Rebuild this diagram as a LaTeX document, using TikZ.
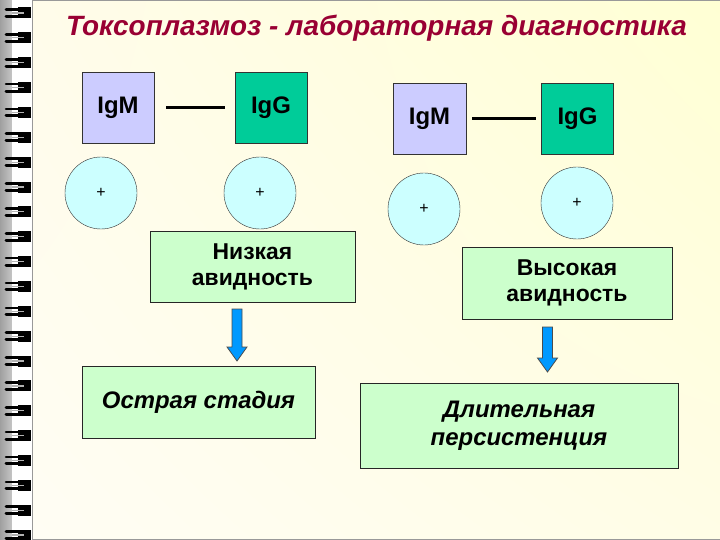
\documentclass[tikz,border=0pt]{standalone}
\usepackage{fontspec}
\setmainfont{Liberation Sans}
\usetikzlibrary{calc,shadings}
\definecolor{titlered}{RGB}{153,0,51}
\definecolor{igmblue}{RGB}{204,204,255}
\definecolor{igggreen}{RGB}{0,204,153}
\definecolor{pluscyan}{RGB}{204,255,255}
\definecolor{boxgreen}{RGB}{204,255,204}
\definecolor{arrowblue}{RGB}{0,153,255}
\definecolor{bgtr}{RGB}{255,255,212}
\definecolor{bgtl}{RGB}{255,252,234}
\definecolor{bgbl}{RGB}{255,253,244}
\definecolor{bgbr}{RGB}{255,253,230}
\tikzset{>=latex}
\tikzstyle{igm}=[rectangle,draw=black!80,fill=igmblue,minimum width=72bp,minimum height=71bp,font=\fontsize{24}{28}\selectfont\bfseries]
\tikzstyle{igg}=[igm,fill=igggreen]
\tikzstyle{plus}=[circle,draw=black!80,fill=pluscyan,minimum size=72bp,inner sep=0pt,font=\fontsize{16}{18}\selectfont]
\tikzstyle{avid}=[rectangle,draw=black!85,fill=boxgreen,align=center,inner sep=0pt,font=\fontsize{23}{26}\selectfont\bfseries]
\tikzstyle{stage}=[avid,font=\fontsize{24}{28}\selectfont\bfseries\itshape]
\tikzstyle{blockarrow}=[draw=black!70,fill=arrowblue,line width=0.8bp]

\begin{document}
\begin{tikzpicture}[x=1bp,y=-1bp]
\def \shaft {5};
\def \head {10};
\def \headlen {14};
\def \ringgap {24.86};

\useasboundingbox (0,0) rectangle (720,540);

% page and binding
\shade[upper left=bgtl,upper right=bgtr,lower left=bgbl,lower right=bgbr] (32,0) rectangle (720,540);
\shade[left color=gray!75,right color=gray!45] (0,0) rectangle (12,540);
\fill[white] (12,0) rectangle (32,540);
\draw[gray!80,line width=1.2bp] (720,0.6) -- (32.5,0.6) -- (32.5,539.4) -- (720,539.4);

\foreach \i in {0,...,21} {
	\pgfmathsetmacro{\ry}{13 + \ringgap*\i};
	\fill[black] (18,\ry-5.5) rectangle (30.5,\ry+5.5);
	\draw[black,line width=2.6bp,line cap=round] (6,\ry-3.5) -- (20,\ry-3.5);
	\draw[black,line width=3bp,line cap=round] (6,\ry+3.5) -- (20,\ry+3.5);
	\draw[gray!60,line width=1.2bp] (12,\ry) -- (24,\ry);
};

% title
\node[anchor=base,text=titlered,font=\fontsize{28}{32}\selectfont\bfseries\itshape] (title)
at (376.5,36) {Токсоплазмоз - лабораторная диагностика};

% left group
\node[igm] (igmL) at (118,107.5) {IgM};
\node[igg] (iggL) at (271,107.5) {IgG};
\draw[line width=2.2bp] ([xshift=12bp]igmL.east) -- ([xshift=-10bp]iggL.west);

\node[plus] (plusL1) at (101,193) {+};
\node[plus] (plusL2) at (260,193) {+};

\node[avid,minimum width=205bp,minimum height=71bp] (lowavid) at (252.5,266.5) {Низкая\\авидность};
\node[stage,minimum width=233bp,minimum height=72bp] (acute) at (198.5,402) {Острая стадия};

% right group
\node[igm,minimum width=73bp] (igmR) at (429.5,118.5) {IgM};
\node[igg] (iggR) at (577.5,118.5) {IgG};
\draw[line width=2.2bp] ([xshift=6bp]igmR.east) -- ([xshift=-5bp]iggR.west);

\node[plus] (plusR1) at (424,209) {+};
\node[plus] (plusR2) at (577,203) {+};

\node[avid,minimum width=210bp,minimum height=72bp] (highavid) at (567,283) {Высокая\\авидность};
\node[stage,minimum width=318bp,minimum height=85bp] (persist) at (519,425.5) {Длительная\\персистенция};

% block arrows
\coordinate (arrL1) at (237,309);
\coordinate (arrL2) at (237,361);
\coordinate (arrR1) at (547.5,327);
\coordinate (arrR2) at (547.5,372);

\foreach \a/\b in {arrL1/arrL2, arrR1/arrR2} {
	\draw[blockarrow] ($(\a)+(-\shaft,0)$) -- ($(\a)+(\shaft,0)$) -- ($(\b)+(\shaft,-\headlen)$)
	-- ($(\b)+(\head,-\headlen)$) -- (\b) -- ($(\b)+(-\head,-\headlen)$) -- ($(\b)+(-\shaft,-\headlen)$) -- cycle;
};

\end{tikzpicture}
\end{document}
